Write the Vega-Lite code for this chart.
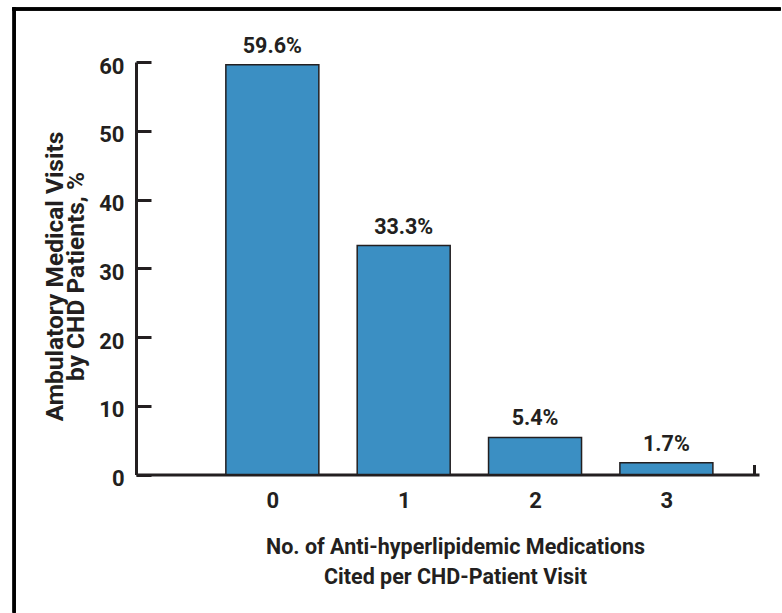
{
  "$schema": "https://vega.github.io/schema/vega-lite/v6.json",
  "autosize": {"type": "none"},
  "padding": {"left": 136, "top": 62, "right": 27, "bottom": 138.5},
  "width": 623,
  "height": 412.5,
  "config": {
    "font": "Roboto",
    "view": {"stroke": null},
    "axis": {"domainColor": "#231f20", "tickColor": "#231f20", "labelColor": "#231f20", "titleColor": "#231f20", "grid": false}
  },
  "data": {"values": [
    {"meds": 0, "pct": 59.6, "label": "59.6%"},
    {"meds": 1, "pct": 33.3, "label": "33.3%"},
    {"meds": 2, "pct": 5.4, "label": "5.4%"},
    {"meds": 3, "pct": 1.7, "label": "1.7%"}
  ]},
  "layer": [
    {
      "mark": {"type": "bar", "size": 93, "fill": "#3b8fc3", "stroke": "#231f20", "strokeWidth": 1.5},
      "encoding": {
        "x": {"field": "meds", "type": "quantitative",
          "scale": {"domain": [-1, 3.667], "nice": false, "zero": false},
          "axis": {
            "values": [0, 1, 2, 3, 3.667],
            "labelExpr": "datum.value > 3.5 ? '' : format(datum.value, 'd')",
            "domainWidth": 3,
            "tickWidth": 3,
            "tickSize": -10,
            "tickOpacity": {"condition": {"test": "datum.value > 3.5", "value": 1}, "value": 0},
            "labelFontSize": 22,
            "labelFontWeight": "bold",
            "labelPadding": 26,
            "title": ["No. of Anti-hyperlipidemic Medications", "Cited per CHD-Patient Visit"],
            "titleFontSize": 21.5,
            "titleFontWeight": "bold",
            "titleLineHeight": 30,
            "titleBaseline": "alphabetic",
            "titleAlign": "center",
            "titleX": 319,
            "titleY": 78.5
          }
        },
        "y": {"field": "pct", "type": "quantitative",
          "scale": {"domain": [0, 60], "nice": false},
          "axis": {
            "values": [0, 10, 20, 30, 40, 50, 60],
            "domainWidth": 3,
            "tickWidth": 3,
            "tickSize": -15,
            "labelFontSize": 22,
            "labelFontWeight": "bold",
            "labelPadding": 27,
            "labelOffset": 4,
            "title": ["Ambulatory Medical Visits", "by CHD Patients, %"],
            "titleFontSize": 24.5,
            "titleFontWeight": "bold",
            "titleLineHeight": 21,
            "titleBaseline": "alphabetic",
            "titleAngle": -90,
            "titleAlign": "center",
            "titleX": -74,
            "titleY": 214
          }
        }
      }
    },
    {
      "mark": {"type": "text", "dy": -12, "baseline": "alphabetic", "fontSize": 21.5, "fontWeight": "bold", "color": "#231f20"},
      "encoding": {
        "x": {"field": "meds", "type": "quantitative"},
        "y": {"field": "pct", "type": "quantitative"},
        "text": {"field": "label"}
      }
    },
    {
      "mark": {"type": "rule", "color": "#000000", "strokeWidth": 3},
      "encoding": {
        "x": {"datum": -1.98},
        "x2": {"datum": 3.87},
        "y": {"datum": 67.71}
      }
    },
    {
      "mark": {"type": "rule", "color": "#000000", "strokeWidth": 3},
      "encoding": {
        "x": {"datum": -1.966},
        "y": {"datum": 67.93},
        "y2": {"datum": -20.1}
      }
    }
  ]
}
